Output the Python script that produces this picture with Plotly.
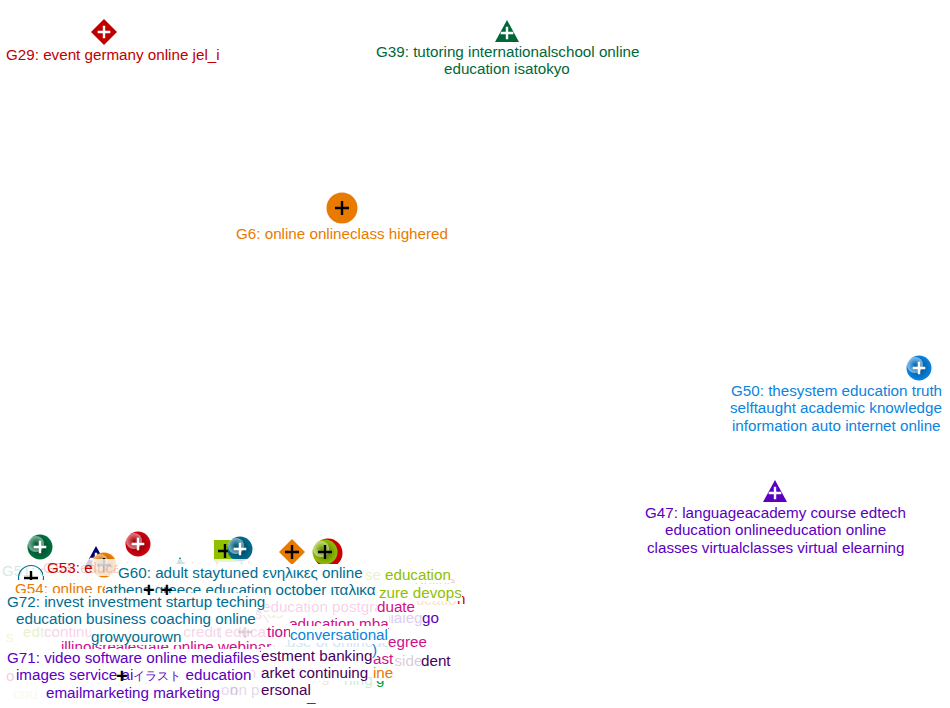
import plotly.graph_objects as go

# nodes: bottom to top
node_x = [245, 122, 288, 272, 180, 85, 96, 104, 225, 31, 149, 167, 328, 138, 40, 240, 292, 325, 104, 507, 342, 919, 775]
node_y = [632, 676, 590, 606, 569, 596, 558, 565, 551, 578, 590, 590, 553, 544, 547, 549, 552, 552, 32, 32, 208, 368, 492]
node_sym = ["circle", "circle", "square", "circle", "triangle", "circle", "triangle", "circle", "square", "circle", "circle", "circle", "circle", "circle", "circle", "circle", "diamond", "circle", "diamond", "triangle", "circle", "circle", "triangle"]
node_size = [50, 50, 24, 16, 24, 28, 24, 25, 22, 25, 25, 25, 29, 25, 25, 25, 20, 25, 20, 24, 31, 25, 24]
node_color = ["#a0a0c0", "#5b00c0", "#e040a0", "#006d8f", "#006d8f", "#f0a000", "#00006e", "#f08000", "#90c000", "#006d8f", "#90c000", "#d0108a", "#c80000", "#d00010", "#007040", "#006d8f", "#e87a00", "#90c000", "#c00000", "#006838", "#e87a00", "#0a84e0", "#5b00c0"]
node_style = ["hollow", "hollow", "flat", "hollow", "flat", "hollow", "flat", "ball", "flat", "hollow", "hollow", "hollow", "flat", "ball", "ball", "ball", "flat", "ball", "flat", "flat", "flat", "ball", "flat"]
node_alpha = [0.25, 0.15, 0.2, 1, 1, 1, 1, 1, 1, 1, 1, 1, 1, 1, 1, 1, 1, 1, 1, 1, 1, 1, 1]
plus_color = ["#808080", "#000000", "#ffffff", "rgba(0,0,0,0)", "rgba(0,0,0,0)", "#000000", "#ffffff", "#000000", "#000000", "#000000", "#000000", "#000000", "#000000", "#ffffff", "#ffffff", "#ffffff", "#000000", "#000000", "#ffffff", "#ffffff", "#000000", "#ffffff", "#ffffff"]

# faded label texts, bottom to top
pale_text = ["G51: career internet", "s", "edt", "G68", "o", "cou",
             "G69: courses brokers", "continuingeducation credit education", "G67: online institute",
             "course exam", "education", "se", "online", "education", "nialego",
             "use of onlinede", "education", "resident", "for coding", "ning", "t m", "on p", "us"]
pale_x = [70, 10, 34, 34, 10, 25, 190, 167, 230, 205, 205, 373, 435, 432, 406, 338, 350, 408, 296, 358, 245, 245, 275]
pale_y = [571, 637, 632, 614, 676, 694, 614, 632, 650, 670, 690, 575, 582, 600, 618, 642, 655, 661, 677, 680, 673, 690, 613]
pale_color = ["#006838", "#f0d000", "#90c000", "#90c000", "#c80040", "#e0c060", "#d0108a", "#e040a0", "#5b00c0",
              "#5b00c0", "#5b00c0", "#90c000", "#c80040", "#e87a00", "#5b00c0", "#0a84e0", "#0a84e0", "#4a0060",
              "#e87a00", "#00a040", "#d0108a", "#4a0060", "#90c000"]
pale_alpha = [0.15, 0.22, 0.2, 0.2, 0.18, 0.1, 0.15, 0.22, 0.15, 0.15, 0.15, 0.2, 0.2, 0.2, 0.2, 0.2, 0.2, 0.2, 0.2, 0.2, 0.2, 0.15, 0.2]

# solid label texts, bottom to top
solid_text = ["education postgra", "G53: education coaching hacking",
              "illinoisrealestate online webinar", "n", "g", "_", "ine", "ast", ")", "dent", "go", "egree", "duate",
              "education mba", "tion", "conversational",
              "estment banking", "arket continuing", "ersonal",
              "education", "zure devops",
              "G53: e", "G54: online retail",
              "G60: adult staytuned ενηλικες online<br>athens greece education october ιταλικα",
              "G72: invest investment startup teching<br>education business coaching online<br>growyourown",
              "G71: video software online mediafiles<br>images service ai<span style=\"font-size:11.5px\">イラスト</span> education<br>emailmarketing marketing",
              "G29: event germany online jel_i",
              "G39: tutoring internationalschool online<br>education isatokyo",
              "G6: online onlineclass highered",
              "G50: thesystem education truth<br>selftaught academic knowledge<br>information auto internet online",
              "G47: languageacademy course edtech<br>education onlineeducation online<br>classes virtualclasses virtual elearning"]
solid_x = [322, 155, 166, 461, 380, 311, 383, 383, 374, 436, 430, 407, 396, 339, 279, 339, 316, 314, 286, 418, 420, 70, 72, 240, 136, 133, 113, 507, 342, 836, 775]
solid_y = [607, 568, 647, 599, 679, 696, 673, 659, 650, 661, 618, 642, 607, 624, 632, 635, 656, 673, 690, 575, 593, 568, 589, 573, 602, 658, 55, 52, 234, 391, 513]
solid_color = ["rgba(224,64,160,0.25)", "rgba(200,0,0,0.2)", "#d0108a", "#c80000", "#00a040", "#006838", "#e87a00", "#d0108a", "#0a84e0", "#4a0060", "#5b00c0", "#d0108a", "#d0108a",
               "#d0108a", "#c0108a", "#0a84e0", "#4a0060", "#4a0060", "#4a0060", "#90c000", "#90c000", "#c80000", "#e87a00",
               "#006d8f", "#006d8f", "#5b00c0", "#c00000", "#006838", "#e87a00", "#0a84e0", "#5b00c0"]
solid_bg = ["white", "rgba(255,255,255,0.8)", "white", "white", "white", "rgba(255,255,255,0)", "white", "white", "white", "white", "white", "white", "white",
            "white", "white", "white", "white", "white", "white", "white", "white", "rgba(255,255,255,0)", "white",
            "white", "white", "white", "white", "white", "white", "white", "white"]

# plus signs that sit above the labels
top_plus_x = [149, 167, 122]
top_plus_y = [590, 590, 676]

LINE = 17.6
LABEL_DY = -1
FONT = "Liberation Sans, Arial, sans-serif"


def darker(hex_color, f=0.62):
    r, g, b = (int(hex_color[i:i + 2], 16) for i in (1, 3, 5))
    return f"rgb({int(r * f)},{int(g * f)},{int(b * f)})"


fig = go.Figure()
for x, y, s, sz, c, st, a, p in zip(node_x, node_y, node_sym, node_size, node_color, node_style, node_alpha, plus_color):
    if s == "triangle":
        fig.add_trace(go.Scatter(x=[x - sz / 2, x + sz / 2, x, x - sz / 2],
                                 y=[y + 10, y + 10, y - 12, y + 10],
                                 mode="lines", fill="toself", fillcolor=c, line=dict(width=0, color=c),
                                 opacity=a, hoverinfo="skip", showlegend=False))
    else:
        if st == "hollow":
            marker = dict(symbol=s, size=sz, color="white", line=dict(color=c, width=1.2))
        elif st == "ball":
            marker = dict(symbol=s, size=sz, color=c, line=dict(width=0),
                          gradient=dict(type="radial", color=darker(c)))
        else:
            marker = dict(symbol=s, size=sz, color=c, line=dict(width=0))
        fig.add_trace(go.Scatter(x=[x], y=[y], mode="markers", marker=marker, opacity=a,
                                 hoverinfo="skip", showlegend=False))
    if st == "ball":
        fig.add_trace(go.Scatter(x=[x - 4], y=[y - 3], mode="markers",
                                 marker=dict(symbol="circle", size=16, line=dict(width=0),
                                             color="rgba(255,255,255,0.5)",
                                             gradient=dict(type="radial", color="rgba(255,255,255,0)")),
                                 hoverinfo="skip", showlegend=False))
    fig.add_trace(go.Scatter(x=[x], y=[y + (1 if s == "triangle" else 0)], mode="markers", opacity=a,
                             marker=dict(symbol="cross-thin", size=9 if p == "#ffffff" else 10,
                                         line=dict(color=p, width=2.4)),
                             hoverinfo="skip", showlegend=False))

anns = []
for t, lx, ly, c, a in zip(pale_text, pale_x, pale_y, pale_color, pale_alpha):
    anns.append(dict(x=lx, y=ly + LABEL_DY, xref="x", yref="y", text=t, showarrow=False, xanchor="center",
                     yanchor="middle", borderpad=0, borderwidth=0, opacity=a,
                     font=dict(family=FONT, size=15.2, color=c)))
for t, lx, ly, c, bg in zip(solid_text, solid_x, solid_y, solid_color, solid_bg):
    for i, part in enumerate(t.split("<br>")):
        anns.append(dict(x=lx, y=ly + LABEL_DY + i * LINE, xref="x", yref="y", text=part, showarrow=False,
                         xanchor="center", yanchor="middle", borderpad=0, borderwidth=0, bgcolor=bg,
                         font=dict(family=FONT, size=15.2, color=c)))
for x, y in zip(top_plus_x, top_plus_y):
    anns.append(dict(x=x, y=y, xref="x", yref="y", text="<b>+</b>", showarrow=False, xanchor="center",
                     yanchor="middle", borderpad=0, font=dict(family=FONT, size=20, color="black")))

fig.update_layout(
    width=950, height=708, margin=dict(l=0, r=0, t=0, b=0),
    paper_bgcolor="white", plot_bgcolor="white", showlegend=False, annotations=anns,
    xaxis=dict(range=[0, 950], visible=False, fixedrange=True),
    yaxis=dict(range=[708, 0], visible=False, fixedrange=True),
)
fig.write_html("out.html", config={"displayModeBar": False},
               post_script="document.body.style.margin='0';document.body.style.overflow='hidden';")
